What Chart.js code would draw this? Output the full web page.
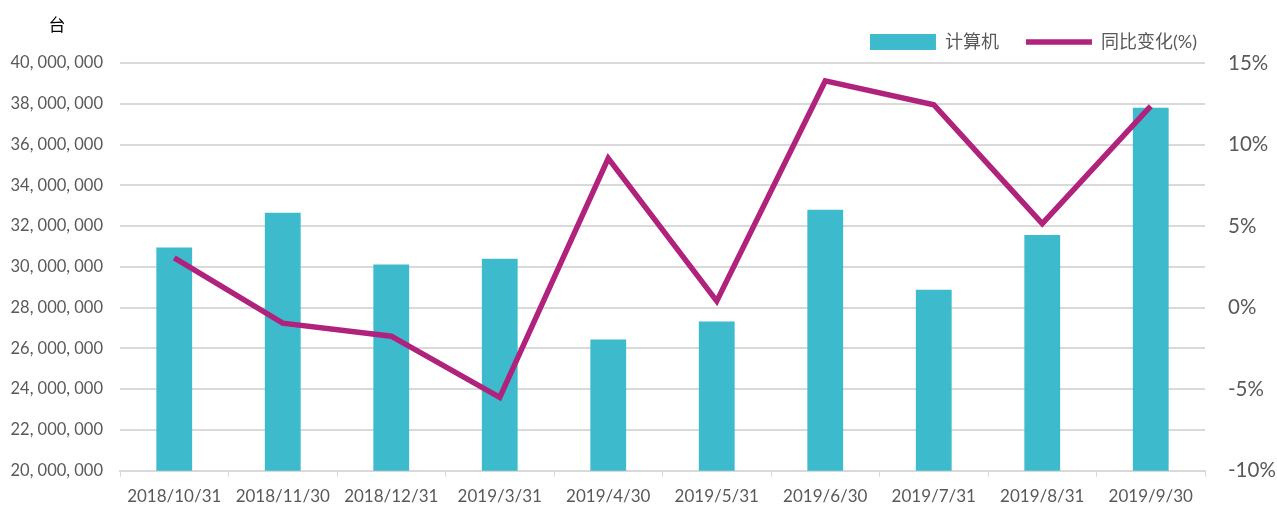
<!DOCTYPE html>
<html>
<head>
<meta charset="utf-8">
<script src="https://cdn.jsdelivr.net/npm/chart.js@4/dist/chart.umd.min.js"></script>
<style>
  html, body { margin: 0; padding: 0; background: #fff; }
  #wrap { width: 1277px; height: 506px; }
</style>
</head>
<body>
<div id="wrap"><canvas id="chart"></canvas></div>
<script>
// ===== Data =====
const categories = ['2018/10/31', '2018/11/30', '2018/12/31', '2019/3/31', '2019/4/30',
  '2019/5/31', '2019/6/30', '2019/7/31', '2019/8/31', '2019/9/30'];
const computerUnits = [30950000, 32650000, 30120000, 30400000, 26440000,
  27320000, 32800000, 28880000, 31560000, 37800000];
const yoyChange = [3.05, -0.95, -1.75, -5.5, 9.15, 0.4, 13.9, 12.44, 5.15, 12.35];
const leftTicks = { min: 20000000, max: 40000000, step: 2000000 };
const rightTicks = { min: -10, max: 15, step: 5 };

const FONT = "Lato, 'Noto Sans CJK SC', sans-serif";
const GREY = '#595959';

// ===== Helpers =====
function spacedThousands(v) {
  return Math.round(v).toString().replace(/\B(?=(\d{3})+(?!\d))/g, ', ');
}

// legend size/position fix + unit label
const layoutTweaks = {
  id: 'layoutTweaks',
  beforeInit(chart) {
    const lg = chart.legend;
    const fit = lg.fit;
    lg.fit = function () { fit.call(this); this.height = 57; };
  },
  afterLayout(chart) {
    chart.legend.right = 1224;
  },
  afterDraw(chart) {
    const ctx = chart.ctx;
    ctx.save();
    ctx.font = "17px 'Noto Sans CJK SC', sans-serif";
    ctx.fillStyle = '#000';
    ctx.textAlign = 'center';
    ctx.textBaseline = 'middle';
    ctx.fillText('台', 57, 25);
    ctx.restore();
  }
};

// ===== Chart =====
new Chart(document.getElementById('chart'), {
  data: {
    labels: categories,
    datasets: [
      {
        type: 'line',
        label: '同比变化(%)',
        data: yoyChange,
        yAxisID: 'y1',
        borderColor: '#b0237c',
        backgroundColor: '#b0237c',
        borderWidth: 5.5,
        pointRadius: 0,
        pointStyle: 'line',
        tension: 0,
        order: 0
      },
      {
        type: 'bar',
        label: '计算机',
        data: computerUnits,
        yAxisID: 'y',
        backgroundColor: '#3dbacb',
        borderWidth: 0,
        pointStyle: 'rect',
        categoryPercentage: 1,
        barPercentage: 0.33,
        order: 1
      }
    ]
  },
  options: {
    responsive: true,
    maintainAspectRatio: false,
    animation: false,
    layout: { padding: { top: 6, right: 0, left: 0, bottom: 0 } },
    plugins: {
      tooltip: { enabled: false },
      legend: {
        position: 'top',
        align: 'end',
        reverse: true,
        labels: {
          usePointStyle: true,
          pointStyleWidth: 66,
          boxHeight: 16,
          padding: 27,
          color: GREY,
          font: { family: FONT, size: 18 }
        }
      }
    },
    scales: {
      x: {
        offset: true,
        grid: {
          display: true,
          offset: true,
          drawOnChartArea: false,
          drawTicks: true,
          tickLength: 6,
          color: '#d9d9d9'
        },
        border: { color: '#d9d9d9', width: 2 },
        ticks: {
          color: GREY,
          padding: 10,
          maxRotation: 0,
          font: { family: FONT, size: 17 }
        },
        afterFit(scale) { scale.height = 32; }
      },
      y: {
        position: 'left',
        min: leftTicks.min,
        max: leftTicks.max,
        ticks: {
          stepSize: leftTicks.step,
          color: GREY,
          padding: 17,
          font: { family: FONT, size: 16.5 },
          callback: v => spacedThousands(v)
        },
        grid: { color: '#d9d9d9', lineWidth: 2, drawTicks: false },
        border: { display: false },
        afterFit(scale) { scale.width = 120; }
      },
      y1: {
        position: 'right',
        min: rightTicks.min,
        max: rightTicks.max,
        ticks: {
          stepSize: rightTicks.step,
          color: GREY,
          padding: 23,
          font: { family: FONT, size: 20.5 },
          callback: v => v + '%'
        },
        grid: { drawOnChartArea: false, drawTicks: false },
        border: { display: false },
        afterFit(scale) { scale.width = 72; }
      }
    }
  },
  plugins: [layoutTweaks]
});
</script>
</body>
</html>
